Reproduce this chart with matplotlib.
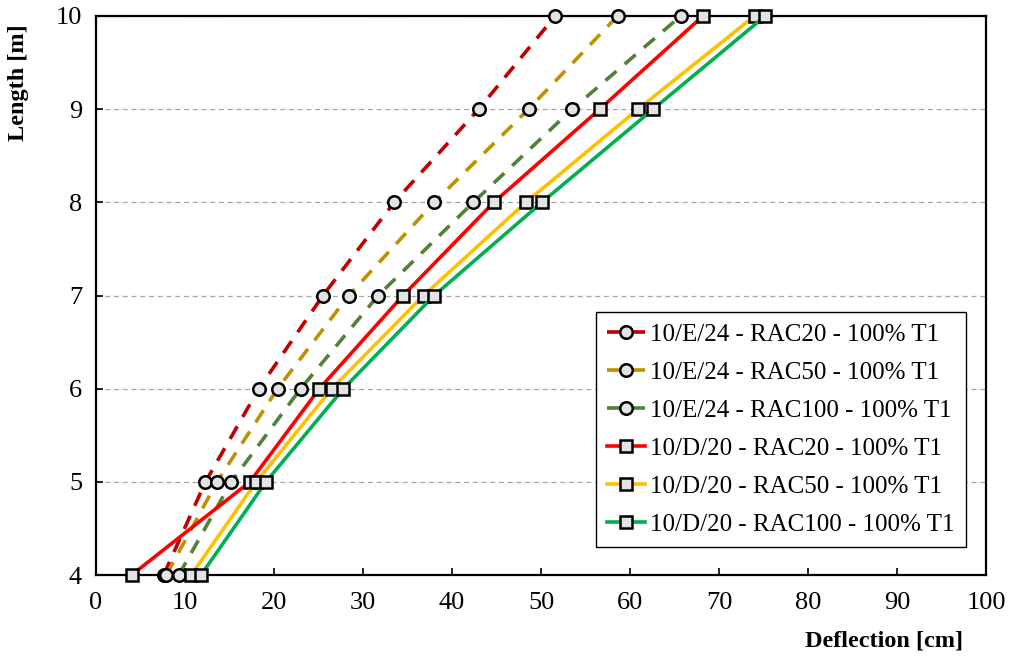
import numpy as np
import matplotlib
matplotlib.use("Agg")
import matplotlib.pyplot as plt

plt.rcParams['font.family'] = ['Liberation Serif', 'DejaVu Serif']

length = [4, 5, 6, 7, 8, 9, 10]

# deflections [cm]
e24_rac20 = [7.6, 12.3, 18.3, 25.5, 33.5, 43.0, 51.6]
e24_rac50 = [7.9, 13.6, 20.4, 28.4, 38.0, 48.6, 58.6]
e24_rac100 = [9.3, 15.2, 23.0, 31.7, 42.4, 53.5, 65.7]
d20_rac20 = [4.0, 17.3, 25.1, 34.5, 44.7, 56.6, 68.2]
d20_rac50 = [10.7, 18.0, 26.5, 36.8, 48.3, 60.9, 74.0]
d20_rac100 = [11.8, 19.1, 27.8, 38.0, 50.1, 62.6, 75.2]

labels = ['10/E/24 - RAC20 - 100% T1', '10/E/24 - RAC50 - 100% T1',
          '10/E/24 - RAC100 - 100% T1', '10/D/20 - RAC20 - 100% T1',
          '10/D/20 - RAC50 - 100% T1', '10/D/20 - RAC100 - 100% T1']

series = [e24_rac20, e24_rac50, e24_rac100, d20_rac20, d20_rac50, d20_rac100]
colors = ['#C00000', '#BF9000', '#538135', '#FF0000', '#FFC000', '#00B050']
dashed = [True, True, True, False, False, False]

fig = plt.figure(figsize=(10.22, 6.56), dpi=100)
ax = fig.add_axes([96/1022, 1 - 575/656, (986 - 96)/1022, (575 - 16)/656])

for vals, c, d, lab in zip(series, colors, dashed, labels):
    ax.plot(vals, length, color=c, lw=2.6, ls=(0, (4, 3)) if d else '-',
            marker='o' if d else 's', ms=9, mfc='#E3E3E3', mec='black', mew=1.8,
            label=lab, zorder=3, clip_on=False)

ax.set_xlim(0, 100)
ax.set_ylim(4, 10)
ax.set_xticks(np.arange(0, 101, 10))
ax.set_yticks(np.arange(4, 11, 1))
ax.yaxis.grid(True, ls=(0, (4, 3)), color='#A6A6A6', lw=0.9)
ax.set_axisbelow(True)
ax.tick_params(direction='in', length=5, width=1.2, labelsize=19)
ax.tick_params(axis='x', pad=12)
ax.tick_params(axis='y', pad=10)
for sp in ax.spines.values():
    sp.set_linewidth(1.6)

ax.set_xlabel('Deflection [cm]', fontsize=17.5, fontweight='bold')
ax.xaxis.set_label_coords(0.885, -0.1)
ax.set_ylabel('Length [m]', fontsize=17.5, fontweight='bold')
ax.yaxis.set_label_coords(-0.075, 0.88)

leg = ax.legend(loc='lower right', bbox_to_anchor=(0.977, 0.05), fontsize=18,
                handlelength=1.5, handletextpad=0.2, labelspacing=0.62,
                borderpad=0.45, borderaxespad=0, fancybox=False, framealpha=1)
leg.get_frame().set_edgecolor('black')
leg.get_frame().set_linewidth(1.0)

fig.savefig('out.png', dpi=100)
plt.close()
